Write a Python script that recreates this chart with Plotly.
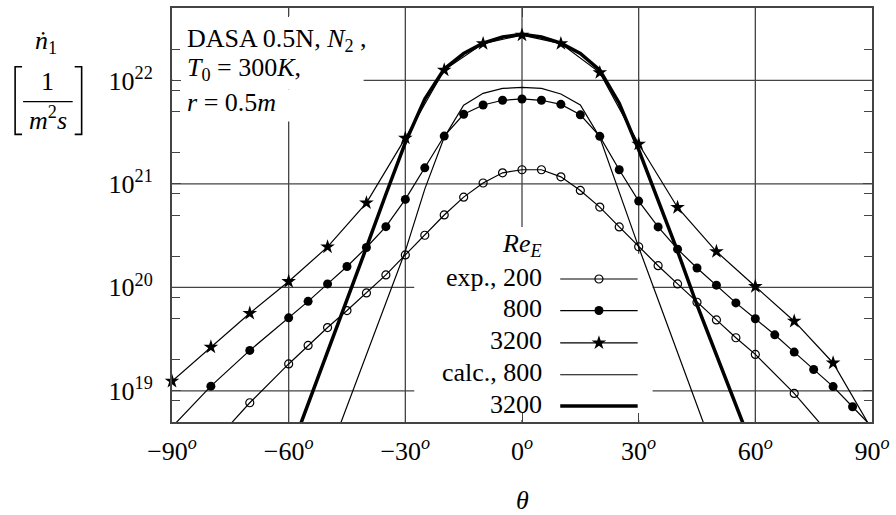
import math
import plotly.graph_objects as go

# ---------------- data ----------------
theta_exp200 = [-80, -70, -60, -55, -50, -45, -40, -35, -30, -25, -20, -15, -10, -5, 0,
                5, 10, 15, 20, 25, 30, 35, 40, 45, 50, 55, 60, 70, 80]
n_exp200 = [2.95e18, 7.67e18, 1.82e19, 2.75e19, 4.09e19, 5.97e19, 8.83e19, 1.32e20, 2.06e20,
            3.19e20, 5.01e20, 7.45e20, 1.02e21, 1.28e21, 1.37e21, 1.37e21, 1.17e21, 8.65e20,
            5.97e20, 3.84e20, 2.47e20, 1.62e20, 1.08e20, 7.18e19, 4.85e19, 3.26e19, 2.25e19,
            9.44e18, 3.47e18]

theta_exp800 = [-90, -80, -70, -60, -55, -50, -45, -40, -35, -30, -25, -20, -15, -10, -5, 0,
                5, 10, 15, 20, 25, 30, 35, 40, 45, 50, 55, 60, 65, 70, 75, 80, 85, 90]
n_exp800 = [4.47e18, 1.11e19, 2.46e19, 5.08e19, 7.33e19, 1.08e20, 1.59e20, 2.43e20, 3.86e20,
            7.08e20, 1.43e21, 2.90e21, 4.71e21, 5.79e21, 6.43e21, 6.62e21, 6.43e21, 5.87e21,
            4.65e21, 2.88e21, 1.37e21, 6.82e20, 3.84e20, 2.34e20, 1.54e20, 1.05e20, 7.08e19,
            4.97e19, 3.48e19, 2.37e19, 1.61e19, 1.10e19, 7.02e18, 4.47e18]

theta_exp3200 = [-90, -80, -70, -60, -50, -40, -30, -20, -10, 0, 10, 20, 30, 40, 50, 60, 70, 80, 90]
n_exp3200 = [1.24e19, 2.65e19, 5.62e19, 1.14e20, 2.46e20, 6.56e20, 2.77e21, 1.26e22, 2.27e22,
             2.74e22, 2.27e22, 1.19e22, 2.43e21, 5.92e20, 2.22e20, 1.02e20, 4.71e19, 1.86e19,
             4.2e18]

theta_calc800 = [-50, -45, -40, -35, -30, -25, -20, -15, -10, -5, 0, 5, 10, 15, 20, 25, 30, 35, 40, 45, 50]
n_calc800 = [2.24e18, 7.08e18, 2.24e19, 7.08e19, 2.24e20, 8.91e20, 2.82e21, 5.75e21, 7.50e21,
             8.37e21, 8.57e21, 8.37e21, 7.40e21, 5.79e21, 2.82e21, 8.32e20, 2.45e20, 7.59e19,
             2.34e19, 7.24e18, 2.24e18]

theta_calc3200 = [-60, -55, -50, -45, -40, -35, -30, -25, -20, -15, -10, -5, 0, 5, 10, 15, 20, 25, 30, 35, 40, 45, 50, 55, 60]
n_calc3200 = [2.34e18, 7.41e18, 2.34e19, 7.59e19, 2.43e20, 7.94e20, 2.51e21, 6.61e21, 1.29e22,
              1.82e22, 2.29e22, 2.63e22, 2.79e22, 2.63e22, 2.29e22, 1.82e22, 1.26e22, 6.03e21,
              2.14e21, 6.92e20, 2.24e20, 6.76e19, 2.24e19, 7.41e18, 2.40e18]

x_tickvals = [-90, -60, -30, 0, 30, 60, 90]
x_ticktext = ["\u221290<sup><i>o</i></sup>", "\u221260<sup><i>o</i></sup>", "\u221230<sup><i>o</i></sup>",
              "0<sup><i>o</i></sup>", "30<sup><i>o</i></sup>", "60<sup><i>o</i></sup>", "90<sup><i>o</i></sup>"]
y_tickvals = [1e19, 1e20, 1e21, 1e22]
y_ticktext = ["10<sup>19</sup>", "10<sup>20</sup>", "10<sup>21</sup>", "10<sup>22</sup>"]
y_minor_mantissas = [2.0, 5.0, 8.0]
y_minor_decades = [18, 19, 20, 21, 22]

legend_labels = ["exp., 200", "800", "3200", "calc., 800", "3200"]

# ---------------- layout helpers ----------------
W, H = 896, 515
ML, MR, MT, MB = 172, 19, 6, 93
PW, PH = W - ML - MR, H - MT - MB
X_RANGE = [-90, 90]
Y_LOG_RANGE = [18.699, 22.70]
Y_LO, Y_HI = 10 ** Y_LOG_RANGE[0], 10 ** Y_LOG_RANGE[1]
FONT = "Liberation Serif, Times New Roman, serif"
FS = 26


def fx(px):
    return (px - ML) / PW


def fy(py):
    return (H - MB - py) / PH


def in_range(xs, ys):
    pts = [(a, b) for a, b in zip(xs, ys) if Y_LO <= b <= Y_HI]
    return [p[0] for p in pts], [p[1] for p in pts]


fig = go.Figure()
BLK = "black"
AX = "#444"

# calculated curves
fig.add_trace(go.Scatter(x=theta_calc800, y=n_calc800, mode="lines",
                         line=dict(color=BLK, width=1.2), showlegend=False))
fig.add_trace(go.Scatter(x=theta_calc3200, y=n_calc3200, mode="lines",
                         line=dict(color=BLK, width=3.5), showlegend=False))

# experimental lines
for xs, ys in [(theta_exp200, n_exp200), (theta_exp800, n_exp800), (theta_exp3200, n_exp3200)]:
    fig.add_trace(go.Scatter(x=xs, y=ys, mode="lines",
                             line=dict(color=BLK, width=1.2), showlegend=False))

# experimental markers (only those inside the plotting range, not clipped at the frame)
marker_styles = [
    dict(symbol="circle-open", size=8, color=BLK, line=dict(width=1.2, color=BLK)),
    dict(symbol="circle", size=9, color=BLK),
    dict(symbol="star", size=11, color=BLK),
]
for (xs, ys), mk in zip([(theta_exp200, n_exp200), (theta_exp800, n_exp800),
                         (theta_exp3200, n_exp3200)], marker_styles):
    mx, my = in_range(xs, ys)
    fig.add_trace(go.Scatter(x=mx, y=my, mode="markers", marker=mk,
                             cliponaxis=False, showlegend=False))

# ---------------- hand-made key (gnuplot style) on an overlay pixel axis ----------------
row_y = [278.3, 310, 342.5, 374.5, 406]
key_x0, key_x1, key_xm, key_text_x = 563, 641, 602, 547
sample_styles = [
    (dict(color=BLK, width=1.2), marker_styles[0]),
    (dict(color=BLK, width=1.2), marker_styles[1]),
    (dict(color=BLK, width=1.2), marker_styles[2]),
    (dict(color=BLK, width=1.2), None),
    (dict(color=BLK, width=3.5), None),
]
for yy, (ln, mk) in zip(row_y, sample_styles):
    fig.add_trace(go.Scatter(x=[key_x0, key_x1], y=[yy, yy], mode="lines", line=ln,
                             xaxis="x2", yaxis="y2", showlegend=False, hoverinfo="skip"))
    if mk is not None:
        fig.add_trace(go.Scatter(x=[key_xm], y=[yy], mode="markers", marker=mk,
                                 xaxis="x2", yaxis="y2", showlegend=False, hoverinfo="skip"))

annotations = []
annotations.append(dict(x=fx(key_text_x), y=fy(244), xref="paper", yref="paper",
                        text="<i>Re</i><sub><i>E</i></sub>", showarrow=False,
                        xanchor="right", yanchor="middle"))
for yy, lab in zip(row_y, legend_labels):
    annotations.append(dict(x=fx(key_text_x), y=fy(yy - 2), xref="paper", yref="paper",
                            text=lab, showarrow=False, xanchor="right", yanchor="middle"))

# text block top-left
for yy, txt in [(38, "DASA 0.5N, <i>N</i><sub>2</sub> ,"),
                (67, "<i>T</i><sub>0</sub> = 300<i>K</i>,"),
                (101, "<i>r</i> = 0.5<i>m</i>")]:
    annotations.append(dict(x=fx(185), y=fy(yy), xref="paper", yref="paper", text=txt,
                            showarrow=False, xanchor="left", yanchor="middle"))

# y-axis title (n-dot_1 [1/(m^2 s)])
annotations.append(dict(x=fx(45), y=fy(40), xref="paper", yref="paper",
                        text="<i>\u1e45</i><sub>1</sub>", showarrow=False,
                        xanchor="center", yanchor="middle"))
annotations.append(dict(x=fx(47), y=fy(80), xref="paper", yref="paper", text="1",
                        showarrow=False, xanchor="center", yanchor="middle"))
annotations.append(dict(x=fx(47), y=fy(117), xref="paper", yref="paper",
                        text="<i>m</i><sup>2</sup><i>s</i>", showarrow=False,
                        xanchor="center", yanchor="middle"))
# x-axis title
annotations.append(dict(x=fx(524.5), y=fy(501), xref="paper", yref="paper",
                        text="<i>\u03b8</i>", showarrow=False,
                        xanchor="center", yanchor="middle"))

shapes = []
# grid lines (drawn as shapes below the traces so that label boxes can mask them)
for v in x_tickvals[1:-1]:
    f = (v - X_RANGE[0]) / (X_RANGE[1] - X_RANGE[0])
    shapes.append(dict(type="line", xref="paper", yref="paper", x0=f, x1=f, y0=0, y1=1,
                       line=dict(color=AX, width=1.3), layer="below"))
for v in y_tickvals:
    f = (math.log10(v) - Y_LOG_RANGE[0]) / (Y_LOG_RANGE[1] - Y_LOG_RANGE[0])
    shapes.append(dict(type="line", xref="paper", yref="paper", x0=0, x1=1, y0=f, y1=f,
                       line=dict(color=AX, width=1.3), layer="below"))
# white boxes behind labels (hide grid lines, as in the reference)
for x0, x1, y0, y1 in [(173, 390, 14, 57), (173, 365, 57, 88), (173, 297, 88, 120),
                       (490, 560, 226, 253), (416, 656, 253, 420)]:
    shapes.append(dict(type="rect", xref="paper", yref="paper",
                       x0=fx(x0), x1=fx(x1), y0=fy(y1), y1=fy(y0),
                       fillcolor="white", line=dict(width=0), layer="below"))
# fraction bar and brackets
shapes.append(dict(type="line", xref="paper", yref="paper", x0=fx(22), x1=fx(72),
                   y0=fy(100), y1=fy(100), line=dict(color=BLK, width=1.3)))
shapes.append(dict(type="path", xref="paper", yref="paper",
                   path="M {0},{1} L {2},{1} L {2},{3} L {0},{3}".format(fx(21), fy(65), fx(14), fy(133)),
                   line=dict(color=BLK, width=1.6)))
shapes.append(dict(type="path", xref="paper", yref="paper",
                   path="M {0},{1} L {2},{1} L {2},{3} L {0},{3}".format(fx(74), fy(65), fx(81), fy(133)),
                   line=dict(color=BLK, width=1.6)))

minor_y = [m * 10.0 ** d for d in y_minor_decades for m in y_minor_mantissas]

fig.update_layout(
    width=W, height=H,
    margin=dict(l=ML, r=MR, t=MT, b=MB, pad=0),
    paper_bgcolor="white", plot_bgcolor="rgba(0,0,0,0)",
    font=dict(family=FONT, size=FS, color="black"),
    showlegend=False,
    annotations=annotations,
    shapes=shapes,
    xaxis=dict(range=X_RANGE, tickmode="array", tickvals=x_tickvals, ticktext=x_ticktext,
               ticks="inside", ticklen=9, tickwidth=1.3, tickcolor=AX,
               showgrid=False, zeroline=False,
               showline=True, linecolor=AX, linewidth=2, mirror="ticks",
               ticklabelstandoff=5, tickfont=dict(size=FS)),
    yaxis=dict(type="log", range=Y_LOG_RANGE, tickmode="array", tickvals=y_tickvals,
               ticktext=y_ticktext, ticks="inside", ticklen=9, tickwidth=1.3, tickcolor=AX,
               showgrid=False, zeroline=False,
               showline=True, linecolor=AX, linewidth=2, mirror="ticks",
               ticklabelstandoff=12, tickfont=dict(size=FS),
               minor=dict(tickmode="array", tickvals=minor_y, ticks="inside", ticklen=8,
                          tickwidth=1.3, tickcolor=AX, showgrid=False)),
    xaxis2=dict(overlaying="x", range=[ML, W - MR], visible=False, fixedrange=True),
    yaxis2=dict(overlaying="y", range=[H - MB, MT], visible=False, fixedrange=True),
)

fig.write_html("out.html")
